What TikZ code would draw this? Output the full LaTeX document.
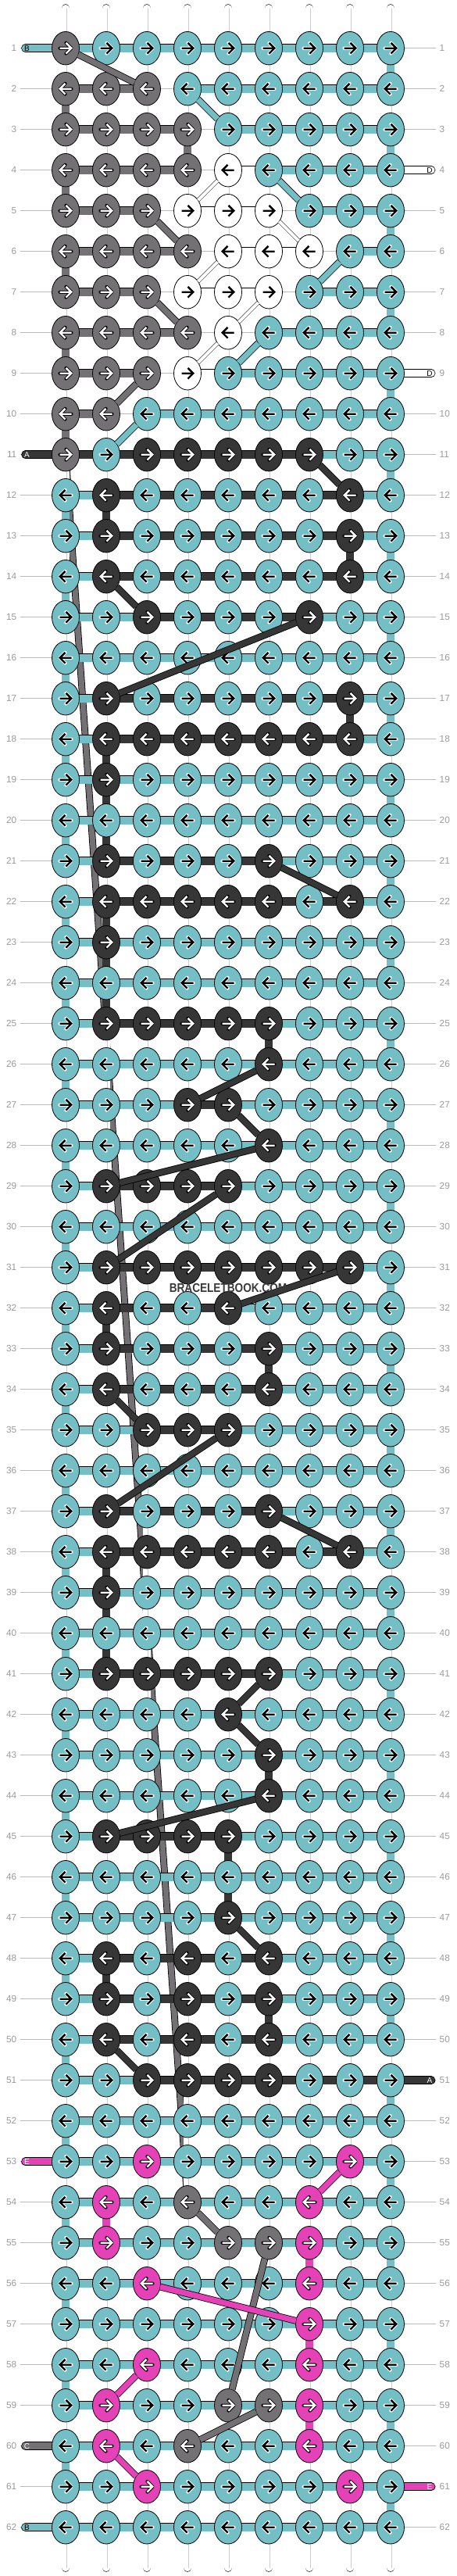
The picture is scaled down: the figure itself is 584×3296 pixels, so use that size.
\documentclass[tikz,border=0pt]{standalone}
\usepackage{fontspec}
\setmainfont{Liberation Sans}
\usetikzlibrary{shapes.geometric}
\pgfdeclarelayer{guide}
\pgfdeclarelayer{cline}
\pgfdeclarelayer{bar}
\pgfdeclarelayer{over}
\pgfsetlayers{guide,cline,bar,main,over}
\definecolor{cT}{HTML}{74BEC5}
\definecolor{cG}{HTML}{747174}
\definecolor{cD}{HTML}{363636}
\definecolor{cP}{HTML}{E542B8}
\definecolor{cW}{HTML}{FFFFFF}
\definecolor{aT}{HTML}{000000}\definecolor{oT}{HTML}{FFFFFF}
\definecolor{aW}{HTML}{000000}\definecolor{oW}{HTML}{FFFFFF}
\definecolor{aG}{HTML}{FFFFFF}\definecolor{oG}{HTML}{000000}
\definecolor{aD}{HTML}{FFFFFF}\definecolor{oD}{HTML}{000000}
\definecolor{aP}{HTML}{FFFFFF}\definecolor{oP}{HTML}{000000}
\definecolor{labgray}{HTML}{9A9A9A}
\definecolor{guidegray}{HTML}{BBBBBB}
\definecolor{wmcol}{HTML}{3A3A3A}
\tikzset{
  knot/.style={ellipse, draw=black, line width=0.8pt, minimum width=35pt, minimum height=42.5pt, inner sep=0pt, outer sep=0pt},
  arrhalo/.style={line width=4.2pt, line cap=round, line join=round},
  arrbody/.style={line width=2.4pt, line cap=butt, line join=miter},
  hb-T/.style={draw=black, line width=0.7pt, double=cT, double distance=9.6pt},
  hb-G/.style={draw=black, line width=0.7pt, double=cG, double distance=9.6pt},
  hb-D/.style={draw=black, line width=0.7pt, double=cD, double distance=9.6pt},
  hb-W/.style={draw=black, line width=0.7pt, double=white, double distance=9.6pt},
  hb-N/.style={},
  vs/.style={draw=black, line width=0.7pt, double=white, double distance=9.2pt},
  vsc/.style={draw=gray!40, line width=0.5pt, double=white, double distance=2pt},
  es/.style={vs, line cap=round},
  dg/.style={draw=black, line width=0.8pt, double distance=7.2pt},
  dgw/.style={draw=black, line width=0.5pt, double=white, double distance=4pt},
  guide/.style={draw=guidegray, line width=0.8pt},
  lab/.style={text=labgray, inner sep=0pt, font=\fontsize{11.8}{12}\selectfont},
  stublab/.style={inner sep=0pt, font=\fontsize{10}{10}\selectfont},
  wm/.style={text=wmcol, inner sep=0pt, font=\bfseries\fontsize{16}{16}\selectfont}
}
\newcommand\knotrow[3]{%
  \pgfmathsetmacro\yy{61.7+52*(#1-1)}%
  \pgfmathtruncatemacro\dirr{2*mod(#1,2)-1}%
  \foreach \k [count=\j] in {#2} {%
    \pgfmathsetmacro\xx{84+52*(\j-1)}%
    \node[knot, fill=c\k] (k-#1-\j) at (\xx,\yy) {};
    \begin{scope}[shift={(\xx,\yy)}, xscale=\dirr]
      \draw[arrhalo, draw=o\k] (-7.5,0) -- (6.5,0) (0.5,-6.8) -- (7.3,0) -- (0.5,6.8);
      \draw[arrbody, draw=a\k] (-7.5,0) -- (6.5,0) (0.5,-6.8) -- (7.3,0) -- (0.5,6.8);
    \end{scope}
  }%
  \begin{pgfonlayer}{bar}
    \foreach \bb [count=\j] in {#3} {%
      \pgfmathtruncatemacro\jn{\j+1}%
      \path[hb-\bb] (k-#1-\j.center) -- (k-#1-\jn.center);
    }%
  \end{pgfonlayer}%
}
\begin{document}
\begin{tikzpicture}[x=1pt,y=-1pt]
\useasboundingbox (0,0) rectangle (584,3296);
\foreach \r in {1,...,62} {
  \pgfmathsetmacro\yy{61.7+52*(\r-1)}
  \begin{pgfonlayer}{guide}
    \draw[guide] (26,\yy) -- (558,\yy);
  \end{pgfonlayer}
  \node[lab, anchor=east] (ll-\r) at (21.5,\yy) {\r};
  \node[lab, anchor=west] (rl-\r) at (562.5,\yy) {\r};
}
\knotrow{1}{G,T,T,T,T,T,T,T,T}{T,T,T,T,T,T,T,T}
\knotrow{2}{G,G,G,T,T,T,T,T,T}{G,G,N,T,T,T,T,T}
\knotrow{3}{G,G,G,G,T,T,T,T,T}{G,G,G,N,T,T,T,T}
\knotrow{4}{G,G,G,G,W,T,T,T,T}{G,G,G,N,W,T,T,T}
\knotrow{5}{G,G,G,W,W,W,T,T,T}{G,G,N,W,W,N,T,T}
\knotrow{6}{G,G,G,G,W,W,W,T,T}{G,G,G,N,W,W,N,T}
\knotrow{7}{G,G,G,W,W,W,T,T,T}{G,G,N,W,W,N,T,T}
\knotrow{8}{G,G,G,G,W,T,T,T,T}{G,G,G,N,N,T,T,T}
\knotrow{9}{G,G,G,W,T,T,T,T,T}{G,G,N,W,T,T,T,T}
\knotrow{10}{G,G,T,T,T,T,T,T,T}{G,N,T,T,T,T,T,T}
\knotrow{11}{G,T,D,D,D,D,D,T,T}{D,D,D,D,D,D,T,T}
\knotrow{12}{T,D,T,T,T,T,T,D,T}{T,D,D,D,D,D,D,T}
\knotrow{13}{T,D,T,T,T,T,T,D,T}{T,D,D,D,D,D,D,T}
\knotrow{14}{T,D,T,T,T,T,T,D,T}{T,D,D,D,D,D,D,T}
\knotrow{15}{T,T,D,T,T,T,D,T,T}{T,T,D,D,D,D,T,T}
\knotrow{16}{T,T,T,T,T,T,T,T,T}{T,T,T,T,T,T,T,T}
\knotrow{17}{T,D,T,T,T,T,T,D,T}{T,D,D,D,D,D,D,T}
\knotrow{18}{T,D,D,D,D,D,D,D,T}{T,D,D,D,D,D,D,T}
\knotrow{19}{T,D,T,T,T,T,T,T,T}{T,T,T,T,T,T,T,T}
\knotrow{20}{T,T,T,T,T,T,T,T,T}{T,T,T,T,T,T,T,T}
\knotrow{21}{T,D,T,T,T,D,T,T,T}{T,D,D,D,D,T,T,T}
\knotrow{22}{T,D,D,D,D,D,T,D,T}{T,D,D,D,D,D,D,T}
\knotrow{23}{T,D,T,T,T,T,T,T,T}{T,T,T,T,T,T,T,T}
\knotrow{24}{T,T,T,T,T,T,T,T,T}{T,T,T,T,T,T,T,T}
\knotrow{25}{T,D,D,D,D,D,T,T,T}{T,D,D,D,D,T,T,T}
\knotrow{26}{T,T,T,T,T,D,T,T,T}{T,T,T,T,T,T,T,T}
\knotrow{27}{T,T,T,D,D,T,T,T,T}{T,T,T,D,T,T,T,T}
\knotrow{28}{T,T,T,T,T,D,T,T,T}{T,T,T,T,T,T,T,T}
\knotrow{29}{T,D,D,D,D,T,T,T,T}{T,D,D,D,T,T,T,T}
\knotrow{30}{T,T,T,T,T,T,T,T,T}{T,T,T,T,T,T,T,T}
\knotrow{31}{T,D,D,D,D,D,D,D,T}{T,D,D,D,D,D,D,T}
\knotrow{32}{T,D,T,T,D,T,T,T,T}{T,D,D,D,T,T,T,T}
\knotrow{33}{T,D,T,T,T,D,T,T,T}{T,D,D,D,D,T,T,T}
\knotrow{34}{T,D,T,T,T,D,T,T,T}{T,D,D,D,D,T,T,T}
\knotrow{35}{T,T,D,D,D,T,T,T,T}{T,T,D,D,T,T,T,T}
\knotrow{36}{T,T,T,T,T,T,T,T,T}{T,T,T,T,T,T,T,T}
\knotrow{37}{T,D,T,T,T,D,T,T,T}{T,D,D,D,D,T,T,T}
\knotrow{38}{T,D,D,D,D,D,T,D,T}{T,D,D,D,D,D,D,T}
\knotrow{39}{T,D,T,T,T,T,T,T,T}{T,T,T,T,T,T,T,T}
\knotrow{40}{T,T,T,T,T,T,T,T,T}{T,T,T,T,T,T,T,T}
\knotrow{41}{T,D,D,D,D,D,T,T,T}{T,D,D,D,D,T,T,T}
\knotrow{42}{T,T,T,T,D,T,T,T,T}{T,T,T,T,T,T,T,T}
\knotrow{43}{T,T,T,T,T,D,T,T,T}{T,T,T,T,T,T,T,T}
\knotrow{44}{T,T,T,T,T,D,T,T,T}{T,T,T,T,T,T,T,T}
\knotrow{45}{T,D,D,D,D,T,T,T,T}{T,D,D,D,T,T,T,T}
\knotrow{46}{T,T,T,T,T,T,T,T,T}{T,T,T,T,T,T,T,T}
\knotrow{47}{T,T,T,T,D,T,T,T,T}{T,T,T,T,T,T,T,T}
\knotrow{48}{T,D,T,D,T,D,T,T,T}{T,D,D,D,D,T,T,T}
\knotrow{49}{T,D,T,D,T,D,T,T,T}{T,D,D,D,D,T,T,T}
\knotrow{50}{T,D,T,D,T,D,T,T,T}{T,D,D,D,D,T,T,T}
\knotrow{51}{T,T,D,D,D,D,T,T,T}{T,T,D,D,D,D,D,D}
\knotrow{52}{T,T,T,T,T,T,T,T,T}{T,T,T,T,T,T,T,T}
\knotrow{53}{T,T,P,T,T,T,T,P,T}{T,T,T,T,T,T,T,T}
\knotrow{54}{T,P,T,G,T,T,P,T,T}{T,T,T,T,T,T,T,T}
\knotrow{55}{T,P,T,T,G,G,P,T,T}{T,T,T,T,T,T,T,T}
\knotrow{56}{T,T,P,T,T,T,P,T,T}{T,T,T,T,T,T,T,T}
\knotrow{57}{T,T,T,T,T,T,P,T,T}{T,T,T,T,T,T,T,T}
\knotrow{58}{T,T,P,T,T,T,P,T,T}{T,T,T,T,T,T,T,T}
\knotrow{59}{T,P,T,T,G,G,P,T,T}{T,T,T,T,T,T,T,T}
\knotrow{60}{T,P,T,G,T,T,P,T,T}{T,T,T,T,T,T,T,T}
\knotrow{61}{T,T,P,T,T,T,T,P,T}{T,T,T,T,T,T,T,T}
\knotrow{62}{T,T,T,T,T,T,T,T,T}{T,T,T,T,T,T,T,T}
% vertical threads
\begin{pgfonlayer}{bar}
\foreach \r in {1,...,61} {
  \pgfmathtruncatemacro\rn{\r+1}
  \foreach \j in {1,...,9} {
    \draw[vs] (k-\r-\j.center) -- (k-\rn-\j.center);
    \draw[vsc] (k-\r-\j.center) -- (k-\rn-\j.center);
  }
}
\foreach \r in {1,3,...,61} {
  \pgfmathtruncatemacro\rn{\r+1}
  \draw[vs, double=cT] (k-\r-9.center) -- (k-\rn-9.center);
}
\foreach \r in {2,4,...,10} {
  \pgfmathtruncatemacro\rn{\r+1}
  \draw[vs, double=cG] (k-\r-1.center) -- (k-\rn-1.center);
}
\foreach \r in {12,14,...,60} {
  \pgfmathtruncatemacro\rn{\r+1}
  \draw[vs, double=cT] (k-\r-1.center) -- (k-\rn-1.center);
}
\foreach \r/\j/\c in {3/4/G, 12/2/D, 18/2/D, 19/2/D, 20/2/D, 22/2/D, 23/2/D, 24/2/D, 32/2/D, 38/2/D, 39/2/D, 40/2/D, 48/2/D, 13/8/D, 17/8/D, 25/6/D, 33/6/D, 43/6/D, 49/6/D, 45/5/D, 46/5/D, 54/2/P, 55/7/P, 57/7/P, 59/7/P} {
  \pgfmathtruncatemacro\rn{\r+1}
  \draw[vs, double=c\c] (k-\r-\j.center) -- (k-\rn-\j.center);
}
% string ends top and bottom
\foreach \j in {1,...,9} {
  \pgfmathsetmacro\xx{84+52*(\j-1)}
  \coordinate (t-\j) at (\xx,10.5);
  \coordinate (b-\j) at (\xx,3285.5);
  \draw[es] (t-\j) -- (k-1-\j.center);
  \draw[vsc] (t-\j) -- (k-1-\j.center);
  \draw[es] (b-\j) -- (k-62-\j.center);
  \draw[vsc] (b-\j) -- (k-62-\j.center);
}
% side threads with letters
\foreach \r/\c/\t/\tc in {1/T/B/black, 11/D/A/white, 53/P/E/white, 60/G/C/white, 62/T/B/black} {
  \pgfmathsetmacro\yy{61.7+52*(\r-1)}
  \coordinate (sl-\r) at (32.5,\yy);
  \draw[es, double=c\c] (sl-\r) -- (k-\r-1.center);
  \node[stublab, text=\tc] (sln-\r) at (34.5,\yy) {\t};
}
\foreach \r/\c/\t/\tc in {4/W/D/black, 9/W/D/black, 51/D/A/white, 61/P/E/white} {
  \pgfmathsetmacro\yy{61.7+52*(\r-1)}
  \coordinate (sr-\r) at (552,\yy);
  \draw[es, double=c\c] (sr-\r) -- (k-\r-9.center);
  \node[stublab, text=\tc] (srn-\r) at (550,\yy) {\t};
}
\end{pgfonlayer}
% long gray thread
\begin{pgfonlayer}{cline}
\draw[dg, double=cG] (k-11-1.center) -- (k-54-4.center);
\end{pgfonlayer}
% diagonal threads
\begin{pgfonlayer}{over}
\foreach \p/\q in {1-1/2-3, 5-3/6-4, 7-3/8-4, 9-3/10-2, 54-4/55-5, 55-6/59-5, 59-6/60-4}
  \draw[dg, double=cG] (k-\p) -- (k-\q);
\foreach \p/\q in {2-4/3-5, 4-6/5-7, 6-8/7-7, 8-6/9-5, 10-3/11-2}
  \draw[dg, double=cT] (k-\p) -- (k-\q);
\foreach \p/\q in {4-5/5-4, 5-6/6-7, 6-5/7-4, 7-6/8-5, 8-5/9-4}
  \draw[dgw] (k-\p) -- (k-\q);
\foreach \p/\q in {11-7/12-8, 14-2/15-3, 15-7/17-2, 21-6/22-8, 26-6/27-4, 27-5/28-6, 28-6/29-2, 29-5/31-2, 31-8/32-5, 34-2/35-3, 35-5/37-2, 37-6/38-8, 41-6/42-5, 42-5/43-6, 44-6/45-2, 47-5/48-6, 50-2/51-3}
  \draw[dg, double=cD] (k-\p) -- (k-\q);
\foreach \p/\q in {53-8/54-7, 56-3/57-7, 58-3/59-2, 60-2/61-3}
  \draw[dg, double=cP] (k-\p) -- (k-\q);
\node[wm] (wmark) at (292,1647.7) {\scalebox{0.85}[1]{BRACELETBOOK.COM}};
\end{pgfonlayer}
\end{tikzpicture}
\end{document}
